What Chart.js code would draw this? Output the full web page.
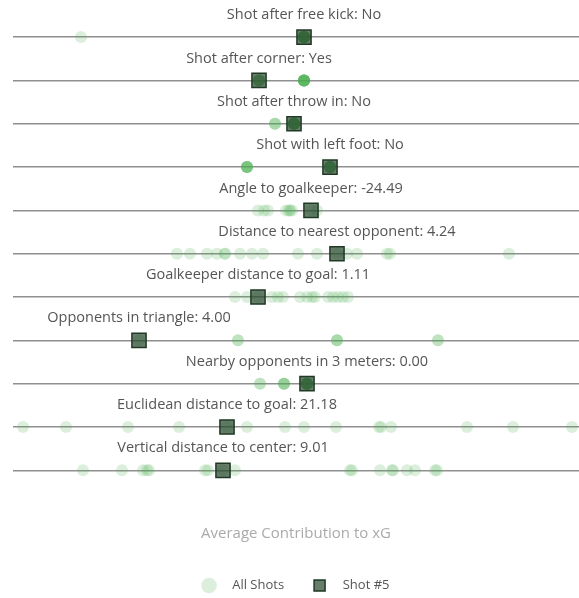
<!DOCTYPE html>
<html>
<head>
<meta charset="utf-8">
<script src="https://cdn.jsdelivr.net/npm/chart.js@4.4.1/dist/chart.umd.min.js"></script>
<style>
  html, body { margin: 0; padding: 0; background: #fff; overflow: hidden; }
  #wrap { width: 579px; height: 598px; }
</style>
</head>
<body>
<div id="wrap"><canvas id="grafico"></canvas></div>
<script>
const features = [
    "Shot after free kick",
    "Shot after corner",
    "Shot after throw in",
    "Shot with left foot",
    "Angle to goalkeeper",
    "Distance to nearest opponent",
    "Goalkeeper distance to goal",
    "Opponents in triangle",
    "Nearby opponents in 3 meters",
    "Euclidean distance to goal",
    "Vertical distance to center"
];

// feature value of shot #5 (shown in the label)
const shotLabels = ["No", "Yes", "No", "No", "-24.49", "4.24", "1.11", "4.00", "0.00", "21.18", "9.01"];

// contribution to xG of shot #5, one per feature
const shotValues = [0.008, -0.037, -0.002, 0.034, 0.015, 0.041, -0.038, -0.157, 0.011, -0.069, -0.073];

// contribution to xG of all shots, one list per feature
const freeKick = [-0.215, 0.008, 0.008, 0.008, 0.008, 0.008, 0.008, 0.008, 0.008, 0.008, 0.008, 0.008, 0.008, 0.008, 0.008, 0.008];
const corner = [0.008, 0.008, 0.008, 0.008, 0.008, 0.008, 0.008, 0.008, 0.008, 0.008, -0.037, -0.037, -0.037, -0.037, -0.037, -0.037];
const throwIn = [-0.021, -0.021, -0.021, -0.002, -0.002, -0.002, -0.002, -0.002, -0.002, -0.002, -0.002, -0.002, -0.002, -0.002, -0.002, -0.002];
const leftFoot = [-0.049, -0.049, -0.049, -0.049, -0.049, -0.049, 0.034, 0.034, 0.034, 0.034, 0.034, 0.034, 0.034, 0.034, 0.034, 0.034];
const angleGk = [-0.038, -0.032, -0.028, -0.010, -0.007, -0.006, -0.004, 0.015, 0.021];
const distOpp = [-0.119, -0.106, -0.089, -0.079, -0.071, -0.071, -0.056, -0.044, -0.033, 0.002, 0.021, 0.041, 0.051, 0.061, 0.091, 0.094, 0.213];
const gkDist = [-0.061, -0.049, -0.038, -0.024, -0.018, -0.013, 0.004, 0.011, 0.016, 0.019, 0.032, 0.037, 0.042, 0.047, 0.052];
const oppTriangle = [-0.157, -0.058, -0.058, 0.041, 0.041, 0.041, 0.142, 0.142];
const nearbyOpp = [-0.036, -0.036, -0.012, -0.012, -0.012, -0.012, 0.011, 0.011, 0.011, 0.011, 0.011, 0.011, 0.011, 0.011, 0.011, 0.011];
const euclidDist = [-0.273, -0.230, -0.168, -0.117, -0.069, -0.049, -0.011, 0.008, 0.040, 0.083, 0.085, 0.095, 0.171, 0.217, 0.276];
const vertDist = [-0.213, -0.174, -0.153, -0.149, -0.147, -0.091, -0.088, -0.073, -0.061, 0.054, 0.056, 0.084, 0.096, 0.097, 0.111, 0.119, 0.139, 0.141];

const allShots = [freeKick, corner, throwIn, leftFoot, angleGk, distOpp, gkDist, oppTriangle, nearbyOpp, euclidDist, vertDist];

const fonte = '"Open Sans"';

// texto de cada linha, centrado no quadrado
const rowLabels = {
    id: 'rowLabels',
    afterDatasetsDraw(chart) {
        const { ctx, scales: { x, y } } = chart;
        ctx.save();
        ctx.font = '14.5px ' + fonte;
        ctx.fillStyle = '#555';
        ctx.textAlign = 'center';
        ctx.textBaseline = 'middle';
        features.forEach((f, i) => {
            ctx.fillText(f + ': ' + shotLabels[i], x.getPixelForValue(shotValues[i]), y.getPixelForValue(i) - 22);
        });
        ctx.restore();
    }
};

const ctx = document.getElementById('grafico').getContext('2d');

new Chart(ctx, {
    type: 'scatter',
    data: {
        datasets: [{
            label: 'All Shots',
            data: allShots.flatMap((row, i) => row.map(v => ({ x: v, y: i }))),
            order: 2,
            pointStyle: 'circle',
            pointRadius: 6,
            pointHoverRadius: 6,
            backgroundColor: 'rgba(76, 175, 80, 0.2)',
            borderWidth: 0,
            clip: false
        }, {
            label: 'Shot #5',
            data: shotValues.map((v, i) => ({ x: v, y: i })),
            order: 1,
            pointStyle: 'rect',
            pointRadius: 10,
            pointHoverRadius: 10,
            backgroundColor: 'rgba(40, 70, 45, 0.7)',
            borderColor: '#1f3a24',
            borderWidth: 1.5,
            clip: false
        }]
    },
    options: {
        responsive: true,
        maintainAspectRatio: false,
        animation: false,
        layout: {
            autoPadding: false,
            padding: { left: 13, right: 0, top: 0, bottom: -4 }
        },
        scales: {
            x: {
                min: -0.283,
                max: 0.283,
                grid: { display: false },
                border: { display: false },
                ticks: { display: false },
                title: {
                    display: true,
                    text: 'Average Contribution to xG',
                    color: '#aaa',
                    font: { family: fonte, size: 15 },
                    padding: { top: 12, bottom: 7 }
                }
            },
            y: {
                reverse: true,
                min: -0.856,
                max: 10.8,
                afterFit: s => { s.width = 0; },
                afterBuildTicks: s => { s.ticks = features.map((_, i) => ({ value: i })); },
                ticks: { display: false },
                border: { display: false },
                grid: { color: '#8f8f8f', lineWidth: 1.5, drawTicks: false }
            }
        },
        plugins: {
            tooltip: { enabled: false },
            legend: {
                position: 'bottom',
                labels: {
                    usePointStyle: true,
                    boxHeight: 11,
                    padding: 29,
                    color: '#555',
                    font: { family: fonte, size: 13 },
                    sort: (a, b) => a.datasetIndex - b.datasetIndex,
                    generateLabels: chart => Chart.defaults.plugins.legend.labels.generateLabels(chart)
                        .map(l => Object.assign(l, { text: '   ' + l.text }))
                }
            }
        }
    },
    plugins: [rowLabels]
});
</script>
</body>
</html>
